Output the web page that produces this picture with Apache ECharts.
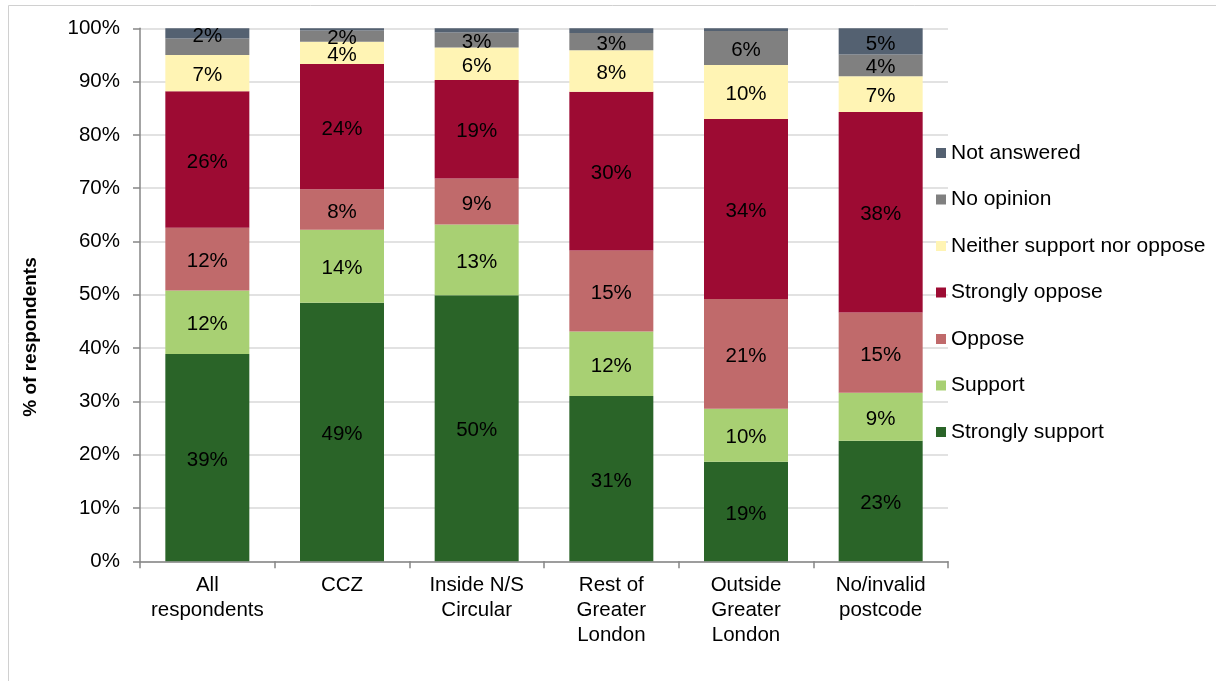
<!DOCTYPE html>
<html>
<head>
<meta charset="utf-8">
<script src="https://cdn.jsdelivr.net/npm/echarts@6/dist/echarts.min.js"></script>
<style>
html,body{margin:0;padding:0;background:#fff;}
#c{width:1216px;height:681px;}
</style>
</head>
<body>
<div id="c"></div>
<script>
var categories = ['All\nrespondents', 'CCZ', 'Inside N/S\nCircular', 'Rest of\nGreater\nLondon', 'Outside\nGreater\nLondon', 'No/invalid\npostcode'];
var stronglySupport = [38.9, 48.5, 49.9, 31.0, 18.7, 22.6];
var support = [11.9, 13.7, 13.3, 12.1, 9.9, 9.0];
var oppose = [11.8, 7.6, 8.6, 15.2, 20.6, 15.1];
var stronglyOppose = [25.6, 23.5, 18.5, 29.8, 33.8, 37.6];
var neither = [6.8, 4.2, 6.1, 7.8, 10.1, 6.7];
var noOpinion = [3.1, 2.1, 2.8, 3.2, 6.4, 4.1];
var notAnswered = [1.9, 0.4, 0.8, 0.9, 0.5, 4.9];
var yTicks = ['0%','10%','20%','30%','40%','50%','60%','70%','80%','90%','100%'];
// labels not shown in the reference: [seriesName, categoryIndex]
var hiddenLabels = [['No opinion',0],['Not answered',1],['Not answered',2],['Not answered',3],['Not answered',4]];

var FONT = '"Liberation Sans", Arial, sans-serif';
var seriesDefs = [
  {name:'Strongly support', data:stronglySupport, color:'#2a6428'},
  {name:'Support', data:support, color:'#a8d073'},
  {name:'Oppose', data:oppose, color:'#c06a6b'},
  {name:'Strongly oppose', data:stronglyOppose, color:'#9d0b33'},
  {name:'Neither support nor oppose', data:neither, color:'#fff4b4'},
  {name:'No opinion', data:noOpinion, color:'#808080'},
  {name:'Not answered', data:notAnswered, color:'#546171'}
];
function isHidden(name, idx){
  for (var i=0;i<hiddenLabels.length;i++){ if(hiddenLabels[i][0]===name && hiddenLabels[i][1]===idx) return true; }
  return false;
}
var series = seriesDefs.map(function(s){
  return {
    name: s.name,
    type: 'bar',
    stack: 'total',
    barWidth: 84,
    itemStyle: {color: s.color},
    label: {
      show: true, position: 'inside', color: '#000', fontSize: 20.5, fontFamily: FONT, offset: [0, 2.5],
      formatter: function(p){ return Math.round(p.value) + '%'; }
    },
    data: s.data.map(function(v, i){
      var d = {value: v};
      if (isHidden(s.name, i)) d.label = {show: false};
      return d;
    })
  };
});

var chart = echarts.init(document.getElementById('c'), null, {renderer:'canvas'});
chart.setOption({
  animation: false,
  backgroundColor: '#fff',
  textStyle: {fontFamily: FONT},
  grid: {left: 140, right: 268, top: 28.3, bottom: 119.7, containLabel: false},
  legend: {
    orient: 'vertical', left: 931, top: 136,
    icon: 'rect', itemWidth: 10, itemHeight: 10, itemGap: 22.5,
    textStyle: {fontSize: 21, color: '#000', fontFamily: FONT, lineHeight: 24},
    data: ['Not answered','No opinion','Neither support nor oppose','Strongly oppose','Oppose','Support','Strongly support']
  },
  xAxis: {
    type: 'category', data: categories,
    axisLine: {lineStyle: {color: '#868686', width: 1.5}},
    axisTick: {show: true, length: 7, lineStyle: {color: '#868686', width: 1.5}},
    axisLabel: {fontSize: 20.5, color: '#000', fontFamily: FONT, lineHeight: 25, margin: 12, interval: 0}
  },
  yAxis: {
    type: 'value', min: 0, max: 100, interval: 10,
    axisLine: {show: true, lineStyle: {color: '#868686', width: 1.5}},
    axisTick: {show: true, length: 7, lineStyle: {color: '#868686', width: 1.5}},
    axisLabel: {fontSize: 20.5, color: '#000', fontFamily: FONT, margin: 20,
      formatter: function(v){ return yTicks[Math.round(v/10)]; }},
    splitLine: {lineStyle: {color: '#d9d9d9', width: 1.5}}
  },
  graphic: [
    {type: 'rect', silent: true, shape: {x: 8.5, y: 5.5, width: 1400, height: 1000},
     style: {fill: 'none', stroke: '#d0d0d0', lineWidth: 1}},
    {type: 'text', x: 31, y: 337, rotation: Math.PI/2,
     style: {text: '% of respondents', fontSize: 19, fontWeight: 'bold', fontFamily: FONT, fill: '#000', align: 'center', verticalAlign: 'middle'}}
  ],
  series: series
});
</script>
</body>
</html>
